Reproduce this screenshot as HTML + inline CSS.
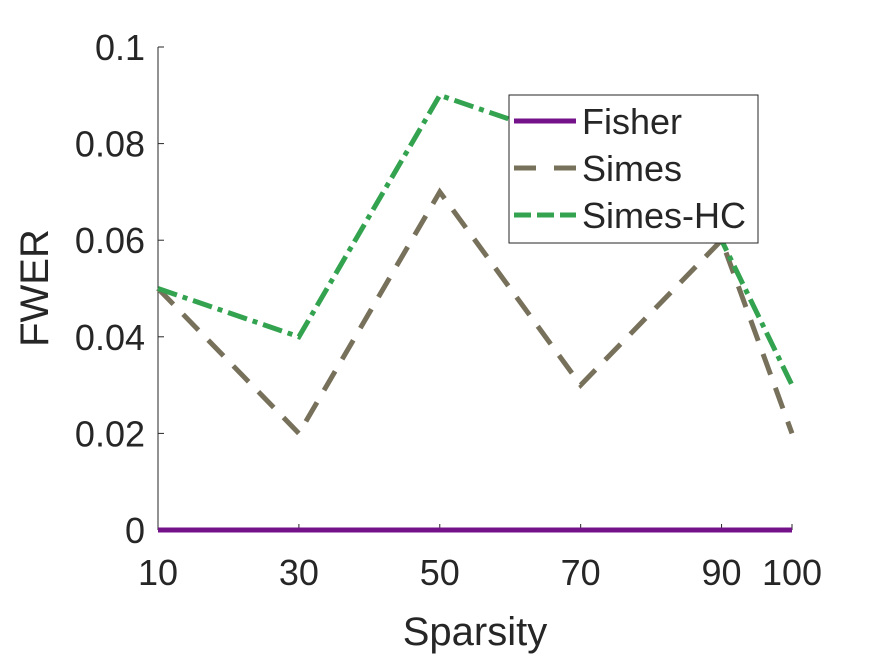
<!DOCTYPE html>
<html><head><meta charset="utf-8"><style>
body{margin:0;background:#fff}
text{font-family:"Liberation Sans",sans-serif;fill:#262626}
</style></head><body>
<svg width="875" height="656" xmlns="http://www.w3.org/2000/svg">
<rect width="875" height="656" fill="#fff"/>
<g id="plot"></g>
</svg>
<script>
const categories=[10,30,50,70,90,100];
const fisher=[0,0,0,0,0,0];
const simes=[0.05,0.02,0.07,0.03,0.06,0.02];
const simesHC=[0.05,0.04,0.09,0.08,0.06,0.03];
const yTicks=[0,0.02,0.04,0.06,0.08,0.1];
const yTickLabels=["0","0.02","0.04","0.06","0.08","0.1"];
const xTickLabels=["10","30","50","70","90","100"];
const NS="http://www.w3.org/2000/svg";
const g=document.getElementById('plot');
const L=158,R=792,T=47,B=530;
const xs=v=>L+(v-10)/90*(R-L);
const ys=v=>B-v/0.1*(B-T);
function mk(t,a,p){const e=document.createElementNS(NS,t);for(const k in a)e.setAttribute(k,a[k]);(p||g).appendChild(e);return e;}
let ax=mk('line',{x1:L,y1:T,x2:L,y2:B,stroke:'#262626','stroke-width':1});


ax=mk('line',{x1:L,y1:B,x2:R,y2:B,stroke:'#262626','stroke-width':1});


yTicks.forEach((v,i)=>{
 mk('line',{x1:L,y1:ys(v),x2:L+6,y2:ys(v),stroke:'#262626'});
 const t=mk('text',{x:L-13,y:ys(v)+13,'text-anchor':'end','font-size':36});
 t.textContent=yTickLabels[i];
 
 
});
categories.forEach((v,i)=>{
 mk('line',{x1:xs(v),y1:B,x2:xs(v),y2:B-6,stroke:'#262626'});
 const t=mk('text',{x:xs(v),y:B+55,'text-anchor':'middle','font-size':36});
 t.textContent=xTickLabels[i];
 
 
});
let t=mk('text',{x:475,y:645,'text-anchor':'middle','font-size':40});
t.textContent='Sparsity';


t=mk('text',{x:0,y:0,'text-anchor':'middle','font-size':40,transform:'translate(48,288) rotate(-90)'});
t.textContent='FWER';


function line(vals,color,dash,name){
 const p=mk('polyline',{points:vals.map((v,i)=>xs(categories[i])+','+ys(v)).join(' '),fill:'none',stroke:color,'stroke-width':5,'stroke-dasharray':dash});
 
 
}
line(simes,'#77705a','22 14','simes-line');
line(simesHC,'#33a350','20 6 5 6','simes-hc-line');
line(fisher,'#74128a','none','fisher-line');
const lg=mk('g',{});


mk('rect',{x:509,y:95,width:249,height:148,fill:'#fff',stroke:'#262626','stroke-width':1},lg);
const items=[['Fisher','#74128a','none'],['Simes','#77705a','22 18'],['Simes-HC','#33a350','17 6 17 6']];
items.forEach((it,i)=>{
 const y=121+i*47;
 mk('line',{x1:514,y1:y,x2:576,y2:y,stroke:it[1],'stroke-width':5,'stroke-dasharray':it[2]},lg);
 const tx=mk('text',{x:582,y:y+13,'font-size':36},lg);
 tx.setAttribute('fill','#000');
 tx.textContent=it[0];
 
 
});
</script>
</body></html>
